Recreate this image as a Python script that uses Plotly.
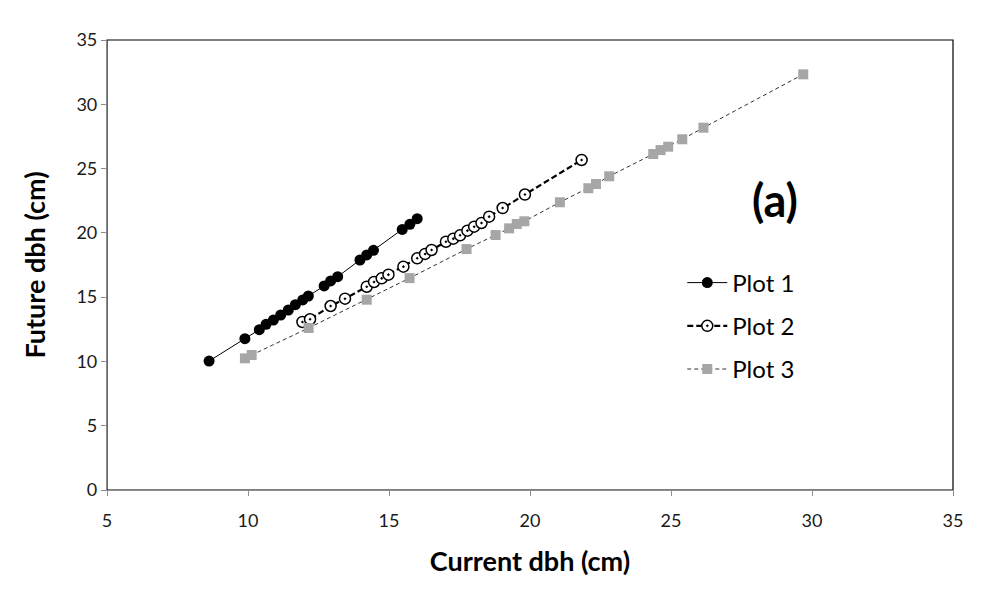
import plotly.graph_objects as go

# Plot 1
plot1_x = [8.62, 9.89, 10.40, 10.64, 10.90, 11.16, 11.43, 11.68, 11.94, 12.14,
           12.70, 12.93, 13.18, 13.97, 14.21, 14.45, 15.47, 15.74, 16.00]
plot1_y = [10.03, 11.77, 12.47, 12.89, 13.22, 13.61, 14.00, 14.41, 14.78, 15.09,
           15.87, 16.26, 16.59, 17.89, 18.28, 18.64, 20.27, 20.66, 21.10]

# Plot 2
plot2_x = [11.93, 12.20, 12.93, 13.44, 14.21, 14.47, 14.74, 14.98, 15.51, 16.00, 16.28,
           16.51, 17.02, 17.28, 17.52, 17.78, 18.02, 18.28, 18.55, 19.03, 19.82, 21.83]
plot2_y = [13.07, 13.28, 14.31, 14.88, 15.81, 16.18, 16.46, 16.75, 17.37, 18.02, 18.36,
           18.67, 19.31, 19.55, 19.81, 20.17, 20.48, 20.77, 21.26, 21.93, 22.98, 25.67]

# Plot 3
plot3_x = [9.89, 10.13, 12.15, 14.21, 15.73, 17.75, 18.78, 19.26, 19.53, 19.80,
           21.06, 22.07, 22.34, 22.81, 24.37, 24.63, 24.90, 25.40, 26.15, 29.69]
plot3_y = [10.24, 10.50, 12.60, 14.80, 16.48, 18.74, 19.83, 20.35, 20.69, 20.90,
           22.38, 23.47, 23.80, 24.40, 26.13, 26.44, 26.70, 27.28, 28.18, 32.33]

FONT = "Lato, 'Open Sans', sans-serif"

fig = go.Figure()

fig.add_trace(go.Scatter(
    x=plot1_x, y=plot1_y, name='Plot 1', mode='lines+markers', legendgroup='1',
    line=dict(color='black', width=1),
    marker=dict(symbol='circle', size=11, color='black')
))

fig.add_trace(go.Scatter(
    x=plot2_x, y=plot2_y, name='Plot 2', mode='lines+markers', legendgroup='2',
    line=dict(color='black', width=2.2, dash='6px,3px'),
    marker=dict(symbol='circle-dot', size=11, color='white',
                line=dict(color='black', width=1.5))
))

fig.add_trace(go.Scatter(
    x=plot3_x, y=plot3_y, name='Plot 3', mode='lines+markers', legendgroup='3',
    line=dict(color='#333333', width=1, dash='4px,3px'),
    marker=dict(symbol='square', size=10, color='#a6a6a6')
))

# plot area border (black on top/right, gray axes drawn over it)
fig.add_shape(type='rect', xref='paper', yref='paper', x0=0, y0=0, x1=1, y1=1,
              line=dict(color='black', width=1.2), layer='below')

fig.add_annotation(text='<b>(a)</b>', x=0.819, y=0.645, xref='paper', yref='paper',
                   showarrow=False, font=dict(family=FONT, size=45, color='black'))

# the page body adds an 8px offset, so margins are shifted to compensate
fig.update_layout(
    width=982, height=600,
    margin=dict(l=99, r=37, t=32, b=118),
    paper_bgcolor='white', plot_bgcolor='white',
    font=dict(family=FONT, color='black'),
    showlegend=True,
    legend=dict(x=0.68, y=0.51, xanchor='left', yanchor='top',
                font=dict(family=FONT, size=24, color='black'),
                traceorder='grouped', tracegroupgap=9,
                bgcolor='rgba(0,0,0,0)', itemwidth=40),
)

fig.update_xaxes(
    range=[5, 35], dtick=5, showgrid=False, zeroline=False,
    showline=True, linecolor='#8c8c8c', linewidth=1.2,
    ticks='outside', ticklen=5, tickcolor='#8c8c8c', ticklabelstandoff=9,
    tickfont=dict(family=FONT, size=18, color='#1a1a1a'),
    title=dict(text='<b>Current dbh (cm)</b>', font=dict(family=FONT, size=27), standoff=22)
)
fig.update_yaxes(
    range=[0, 35], dtick=5, showgrid=False, zeroline=False,
    showline=True, linecolor='#8c8c8c', linewidth=1.2,
    ticks='outside', ticklen=5, tickcolor='#8c8c8c',
    tickfont=dict(family=FONT, size=18, color='#1a1a1a'),
    title=dict(text='<b>Future dbh (cm)</b>', font=dict(family=FONT, size=27), standoff=22)
)

fig.write_html("out.html")
